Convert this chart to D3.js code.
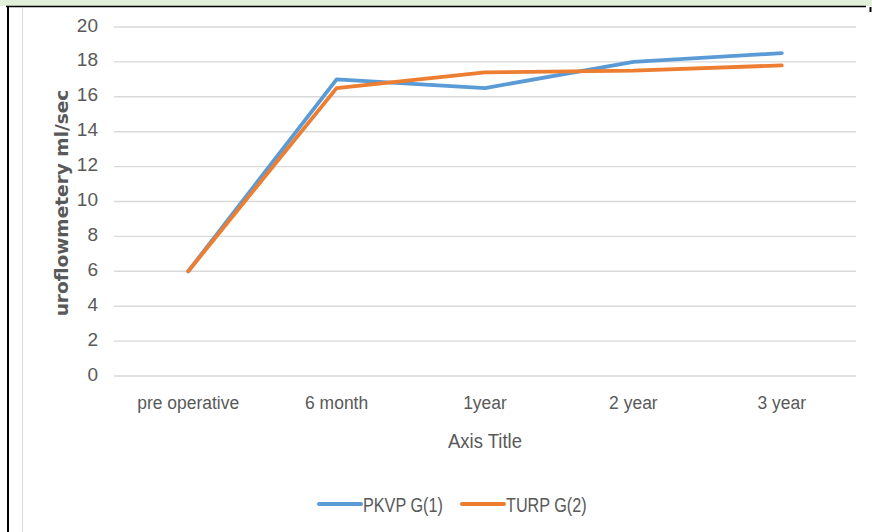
<!DOCTYPE html>
<html><head><meta charset="utf-8">
<script src="https://cdn.jsdelivr.net/npm/d3@7"></script>
<style>
html,body{margin:0;padding:0;background:#fff;}
svg{display:block;}
text{font-family:"Liberation Sans",Arial,sans-serif;}
</style></head>
<body>
<svg id="c" width="872" height="532"></svg>
<script>
const categories = ["pre operative","6 month","1year","2 year","3 year"];
const pkvp = [6, 17.0, 16.5, 18.0, 18.5];
const turp = [6, 16.5, 17.4, 17.5, 17.8];
const yTicks = [0,2,4,6,8,10,12,14,16,18,20];
const seriesNames = ["PKVP G(1)","TURP G(2)"];
const colors = ["#5b9bd5","#ed7d31"];

const svg = d3.select("#c");
// frame decorations
svg.append("rect").attr("x",0).attr("y",0).attr("width",872).attr("height",6).attr("fill","#e2efda");
svg.append("line").attr("x1",6).attr("x2",866).attr("y1",6.5).attr("y2",6.5).attr("stroke","#000").attr("stroke-width",1.5);
svg.append("line").attr("x1",8).attr("x2",8).attr("y1",6).attr("y2",532).attr("stroke","#000").attr("stroke-width",2);
svg.append("line").attr("x1",870.5).attr("x2",870.5).attr("y1",7).attr("y2",12).attr("stroke","#000").attr("stroke-width",2);
svg.append("line").attr("x1",22.5).attr("x2",22.5).attr("y1",8).attr("y2",532).attr("stroke","#d9d9d9").attr("stroke-width",1);

const pLeft=114, pRight=856, pTop=27, pBottom=376;
const x = d3.scaleBand().domain(categories).range([pLeft,pRight]);
const y = d3.scaleLinear().domain([0,20]).range([pBottom,pTop]);

// gridlines
svg.append("g").selectAll("line").data(yTicks).join("line")
  .attr("x1",pLeft).attr("x2",pRight)
  .attr("y1",d=>y(d)).attr("y2",d=>y(d))
  .attr("stroke","#d9d9d9").attr("stroke-width",1.4);

// y axis labels
const yAxis = d3.axisLeft(y).tickValues(yTicks).tickSize(0).tickPadding(0);
const gy = svg.append("g").attr("transform",`translate(98,0)`).call(yAxis);
gy.select(".domain").remove();
gy.selectAll("text").attr("fill","#595959").attr("dy",null).attr("y",4)
  .style("font-size","19px").style("font-family","'Liberation Sans',sans-serif");

// x axis labels
const xAxis = d3.axisBottom(x).tickSize(0).tickPadding(0);
const gx = svg.append("g").attr("transform",`translate(0,409)`).call(xAxis);
gx.select(".domain").remove();
gx.selectAll("text").attr("fill","#595959").attr("dy",null).attr("y",0)
  .attr("transform","scale(0.92,1)")
  .style("font-size","19px").style("font-family","'Liberation Sans',sans-serif");

// titles
svg.append("text").attr("transform",`translate(${(pLeft+pRight)/2},448) scale(0.88,1)`)
  .attr("text-anchor","middle").attr("fill","#595959").style("font-size","21px").text("Axis Title");
svg.append("text").attr("transform",`translate(68,203) rotate(-90) scale(1.03,1)`)
  .attr("text-anchor","middle").attr("fill","#595959").style("font-size","18px")
  .style("font-weight","bold").style("font-family","'DejaVu Sans',sans-serif")
  .text("uroflowmetery ml/sec");

// lines
const line = d3.line().x((d,i)=>x(categories[i])+x.bandwidth()/2).y(d=>y(d));
[pkvp,turp].forEach((s,k)=>{
  svg.append("path").datum(s).attr("d",line).attr("fill","none")
    .attr("stroke",colors[k]).attr("stroke-width",3.8)
    .attr("stroke-linejoin","round").attr("stroke-linecap","round");
});

// legend
const legX=[319,462];
seriesNames.forEach((n,k)=>{
  svg.append("line").attr("x1",legX[k]).attr("x2",legX[k]+42).attr("y1",504).attr("y2",504)
    .attr("stroke",colors[k]).attr("stroke-width",4).attr("stroke-linecap","round");
  svg.append("text").attr("transform",`translate(${legX[k]+44},512) scale(0.81,1)`)
    .attr("fill","#595959").style("font-size","20px").text(n);
});
</script>
</body></html>
